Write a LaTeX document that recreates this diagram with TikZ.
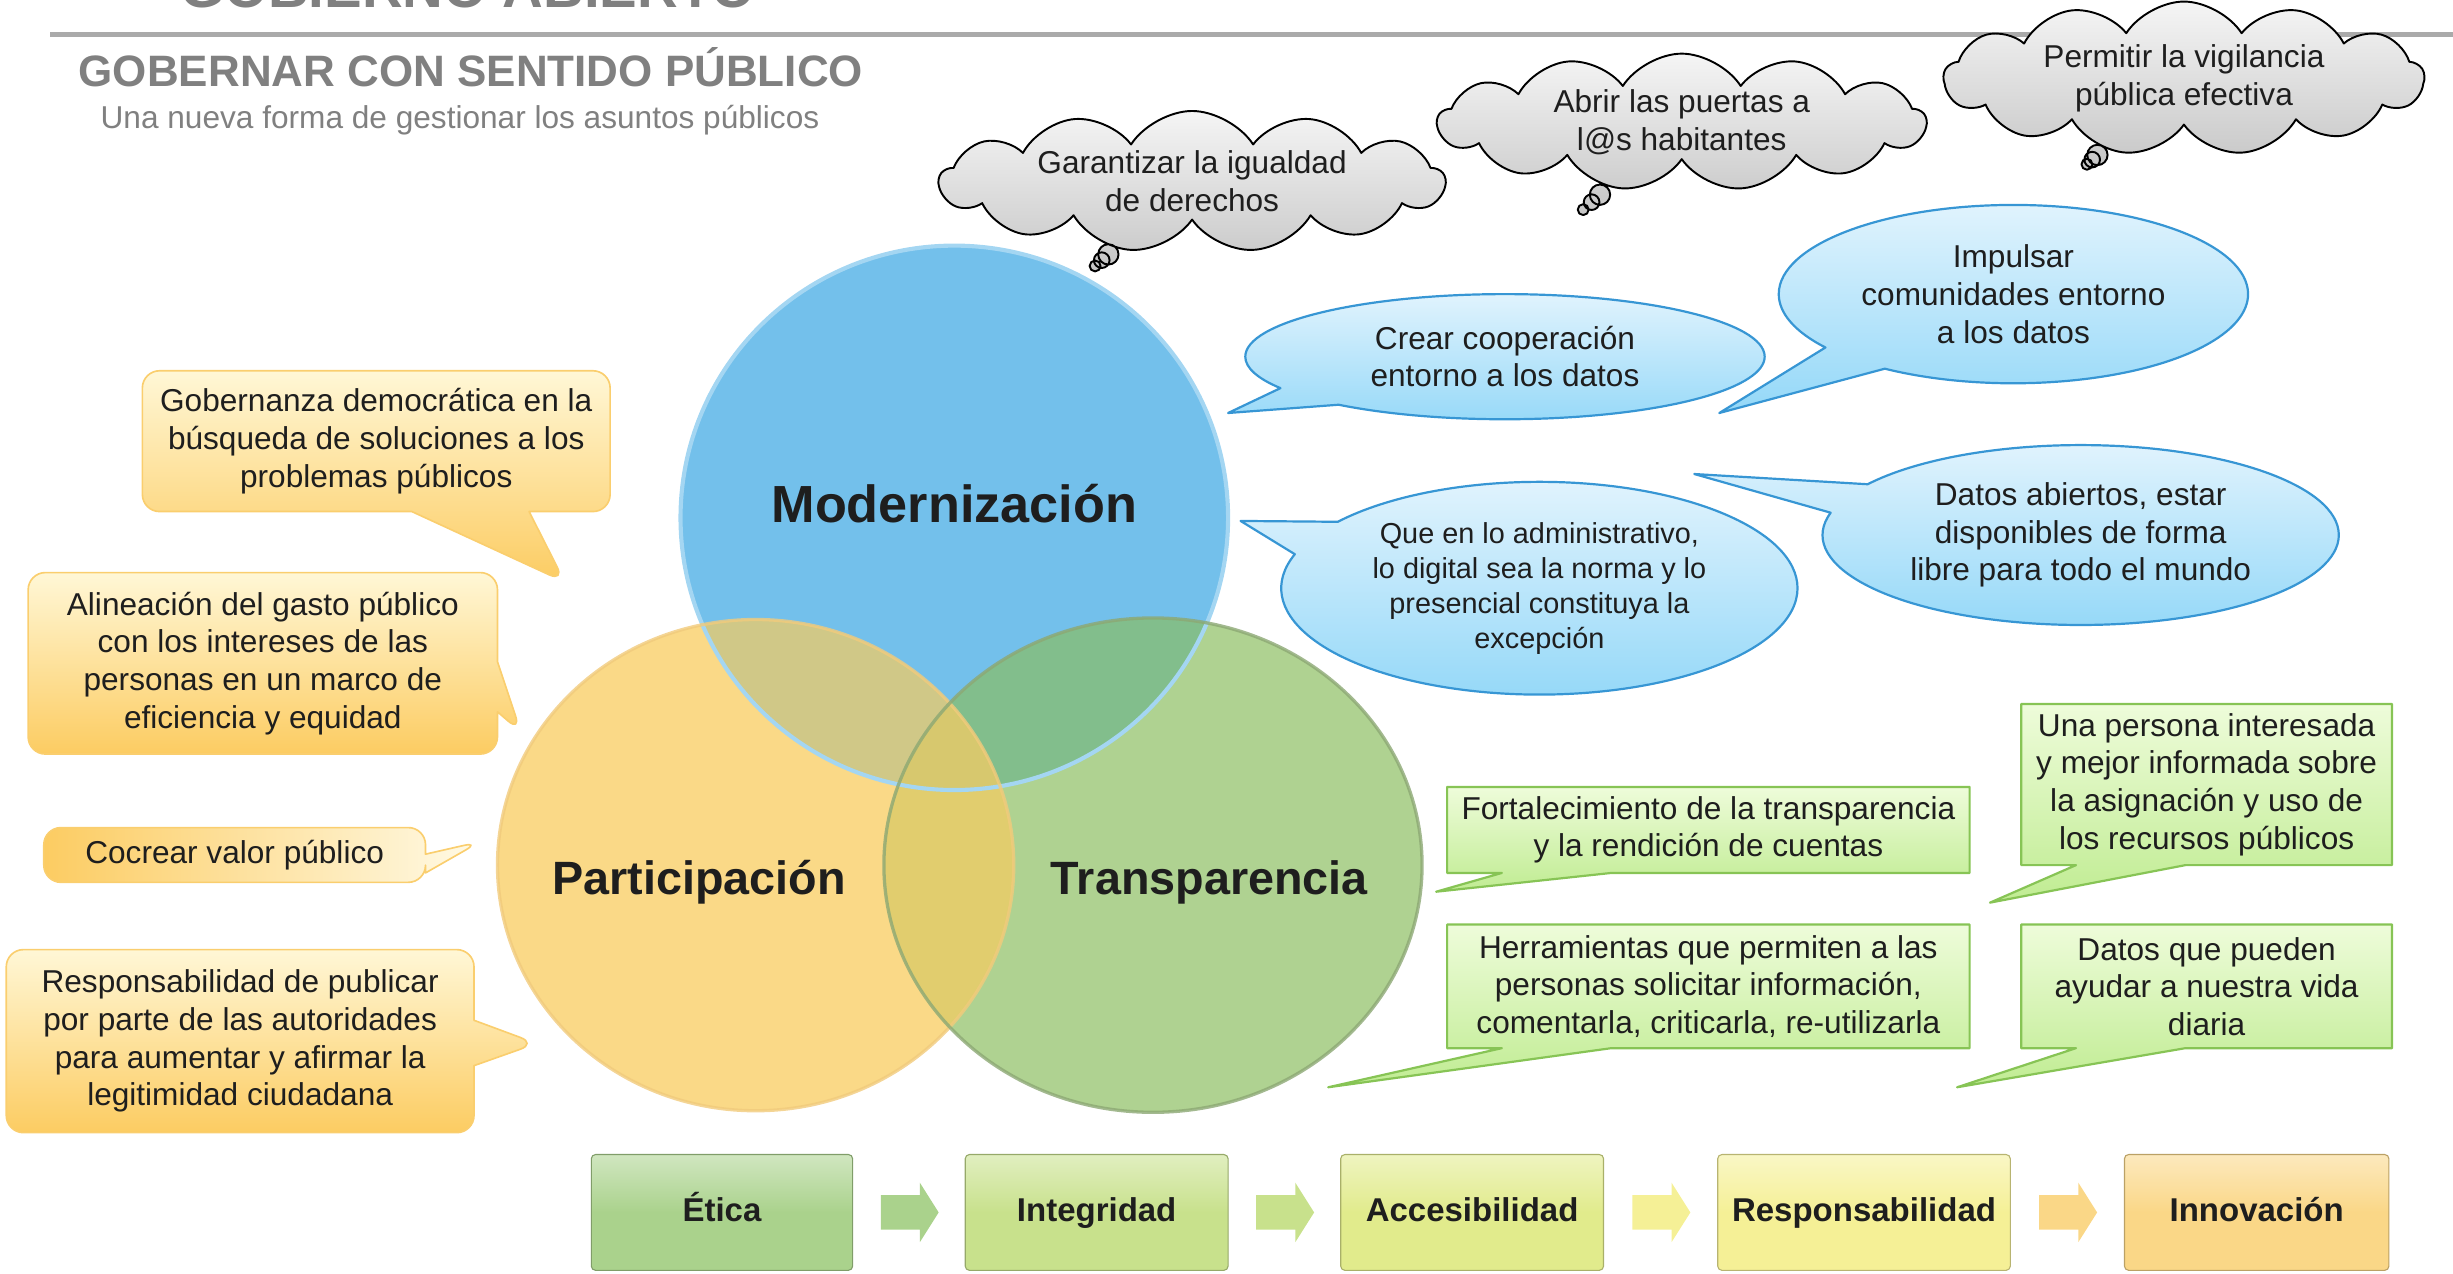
\documentclass[tikz,border=0pt]{standalone}
\usepackage{fontspec}
\setmainfont{Liberation Sans}
\usetikzlibrary{shapes.callouts,shapes.symbols,calc}
\definecolor{gris}{RGB}{128,128,128}
\definecolor{linea}{RGB}{170,170,170}
\definecolor{tinta}{RGB}{30,30,30}
\definecolor{azul}{RGB}{115,192,235}
\definecolor{amarillo}{RGB}{250,217,135}
\definecolor{verde}{RGB}{175,210,145}
\definecolor{azulamarillo}{RGB}{208,200,135}
\definecolor{azulverde}{RGB}{130,190,140}
\definecolor{amarilloverde}{RGB}{225,205,110}
\definecolor{centro}{RGB}{215,200,110}
\definecolor{celeste1}{RGB}{224,243,253}
\definecolor{celeste2}{RGB}{148,216,248}
\definecolor{bordeazul}{RGB}{55,150,212}
\definecolor{verde1}{RGB}{238,252,218}
\definecolor{verde2}{RGB}{192,236,146}
\definecolor{bordeverde}{RGB}{135,196,85}
\definecolor{ama1}{RGB}{255,247,214}
\definecolor{ama2}{RGB}{252,204,98}
\definecolor{bordeama}{RGB}{250,206,110}
\definecolor{paso1}{RGB}{170,210,140}
\definecolor{paso2}{RGB}{200,225,140}
\definecolor{paso3}{RGB}{225,235,140}
\definecolor{paso4}{RGB}{245,240,150}
\definecolor{paso5}{RGB}{250,215,135}
\begin{document}
\begin{tikzpicture}[x=0.02cm,y=-0.02cm,line join=round,font=\fontsize{11.5}{13.7}\selectfont]
\def\px{0.02cm}
\tikzset{nube/.style={cloud callout,cloud puffs=13,cloud puff arc=115,cloud ignores aspect,draw=black,line width=0.7pt,
		top color=gray!8,bottom color=gray!45,inner sep=0pt,align=center,text=tinta,
		callout pointer segments=3,callout pointer start size=0.32cm,callout pointer end size=0.14cm},
	globo/.style={ellipse callout,callout pointer arc=20,draw=bordeazul,line width=0.8pt,
		top color=celeste1,bottom color=celeste2,inner sep=0pt,align=center,text=tinta},
	recuadro/.style={rectangle callout,callout pointer width=1.4cm,draw=bordeverde,line width=0.8pt,
		top color=verde1,bottom color=verde2,inner sep=0pt,align=center,text=tinta},
	aviso/.style={rectangle callout,rounded corners=0.22cm,draw=bordeama,line width=0.6pt,
		top color=ama1,bottom color=ama2,inner sep=0pt,align=center,text=tinta},
	paso/.style={rectangle,rounded corners=1.5pt,draw=#1!75!black,line width=0.4pt,
		top color=#1!55!white,bottom color=#1,middle color=#1,minimum height=74*\px,
		text height=1.6ex,text depth=0.4ex,font=\fontsize{12}{14}\selectfont\bfseries,text=tinta}}
\useasboundingbox (0,0) rectangle (1568,814);
% encabezado
\node[anchor=base west,inner sep=0pt,text=gris,font=\fontsize{20.5}{24}\selectfont\bfseries] (titulo) at (115,5) {GOBIERNO ABIERTO};
\draw[linea,line width=1.7pt] (32,22) -- (1568,22);
\node[anchor=base west,inner sep=0pt,text=gris,font=\fontsize{16}{19}\selectfont\bfseries] (lema) at (50,55) {GOBERNAR CON SENTIDO PÚBLICO};
\node[anchor=base west,inner sep=0pt,text=gris,font=\fontsize{11.5}{13.7}\selectfont] (sub) at (64,82) {Una nueva forma de gestionar los asuntos públicos};
% circulos
\def\cirM{(610,331) ellipse [x radius=175,y radius=174]}
\def\cirP{(483,553) ellipse [x radius=165,y radius=157]}
\def\cirT{(737,553) ellipse [x radius=172,y radius=158]}
\fill[azul] \cirM;
\fill[amarillo] \cirP;
\fill[verde] \cirT;
\begin{scope}
	\clip \cirM;
	\fill[azulamarillo] \cirP;
	\fill[azulverde] \cirT;
\end{scope}
\begin{scope}
	\clip \cirP;
	\fill[amarilloverde] \cirT;
	\clip \cirM;
	\fill[centro] \cirT;
\end{scope}
\draw[azul!65!white,line width=1.5pt] \cirM;
\draw[amarillo!85!brown,line width=1.2pt,opacity=0.8] \cirP;
\draw[verde!80!black,line width=1.2pt,opacity=0.8] \cirT;
\node[text=tinta,font=\fontsize{19}{22}\selectfont\bfseries] (modern) at (610,322) {Modernización};
\node[text=tinta,font=\fontsize{17}{20}\selectfont\bfseries] (partic) at (447,564) {Participación};
\node[text=tinta,font=\fontsize{17}{20}\selectfont\bfseries] (transp) at (773,564) {Transparencia};
% nubes
\node[nube,minimum width=323*\px,minimum height=80*\px,callout absolute pointer={(700,170)}] (igualdad) at (762,116) {Garantizar la igualdad\\de derechos};
\node[nube,minimum width=312*\px,minimum height=84*\px,callout absolute pointer={(1012,134)}] (puertas) at (1075,78) {Abrir las puertas a\\l@s habitantes};
\node[nube,minimum width=307*\px,minimum height=98*\px,callout absolute pointer={(1334,105)}] (vigilancia) at (1396,50) {Permitir la vigilancia\\pública efectiva};
% globos azules
\node[globo,minimum width=332*\px,minimum height=80*\px,callout absolute pointer={(785,264)}] (cooperacion) at (962,228) {Crear cooperación\\entorno a los datos};
\node[globo,minimum width=300*\px,minimum height=114*\px,callout absolute pointer={(1099,264)}] (comunidades) at (1287,188) {Impulsar\\comunidades entorno\\a los datos};
\node[globo,minimum width=330*\px,minimum height=136*\px,callout absolute pointer={(793,333)},font=\fontsize{10.5}{12.7}\selectfont] (digital) at (984,376) {Que en lo administrativo,\\lo digital sea la norma y lo\\presencial constituya la\\excepción};
\node[globo,minimum width=330*\px,minimum height=115*\px,callout absolute pointer={(1083,303)}] (abiertos) at (1330,342) {Datos abiertos, estar\\disponibles de forma\\libre para todo el mundo};
% recuadros verdes
\node[recuadro,minimum width=334*\px,minimum height=55*\px,callout absolute pointer={(918,570)}] (rendicion) at (1092,530.5) {Fortalecimiento de la transparencia\\y la rendición de cuentas};
\node[recuadro,minimum width=237*\px,minimum height=103*\px,callout absolute pointer={(1272,577)}] (informada) at (1410.5,501.5) {Una persona interesada\\y mejor informada sobre\\la asignación y uso de\\los recursos públicos};
\node[recuadro,minimum width=334*\px,minimum height=79*\px,callout absolute pointer={(849,695)}] (herramientas) at (1092,630.5) {Herramientas que permiten a las\\personas solicitar información,\\comentarla, criticarla, re-utilizarla};
\node[recuadro,minimum width=237*\px,minimum height=79*\px,callout absolute pointer={(1251,695)}] (vidadiaria) at (1410.5,630.5) {Datos que pueden\\ayudar a nuestra vida\\diaria};
% avisos amarillos
\node[aviso,minimum width=299*\px,minimum height=90*\px,callout pointer width=1.5cm,callout absolute pointer={(361,372)}] (gobernanza) at (240.5,282) {Gobernanza democrática en la\\búsqueda de soluciones a los\\problemas públicos};
\node[aviso,minimum width=300*\px,minimum height=116*\px,callout pointer width=0.64cm,callout absolute pointer={(333,468)}] (gasto) at (168,424) {Alineación del gasto público\\con los intereses de las\\personas en un marco de\\eficiencia y equidad};
\node[aviso,minimum width=244*\px,minimum height=35*\px,callout pointer width=0.24cm,callout absolute pointer={(307,538)},left color=ama2,right color=ama1!60!white] (cocrear) at (150,546.5) {Cocrear valor público};
\node[aviso,minimum width=299*\px,minimum height=117*\px,callout pointer width=0.58cm,callout absolute pointer={(343,667)}] (legitimidad) at (153.5,665.5) {Responsabilidad de publicar\\por parte de las autoridades\\para aumentar y afirmar la\\legitimidad ciudadana};
% pasos
\foreach \n/\x/\w/\t in {1/461.5/167/Ética,2/701/168/Integridad,3/941/168/Accesibilidad,4/1191.5/187/Responsabilidad,5/1442.5/169/Innovación}
	\node[paso=paso\n,minimum width=\w*\px] (p\n) at (\x,775) {\t};
\foreach \a/\b/\c in {1/2/paso1,2/3/paso2,3/4/paso4,4/5/paso5}{
	\coordinate (f\a) at ($(p\a.east)!.5!(p\b.west)$);
	\fill[\c] (f\a) ++(-18,-11) -- ++(25,0) -- ++(0,-8) -- ++(12,19) -- ++(-12,19) -- ++(0,-8) -- ++(-25,0) -- cycle;}
\end{tikzpicture}
\end{document}
